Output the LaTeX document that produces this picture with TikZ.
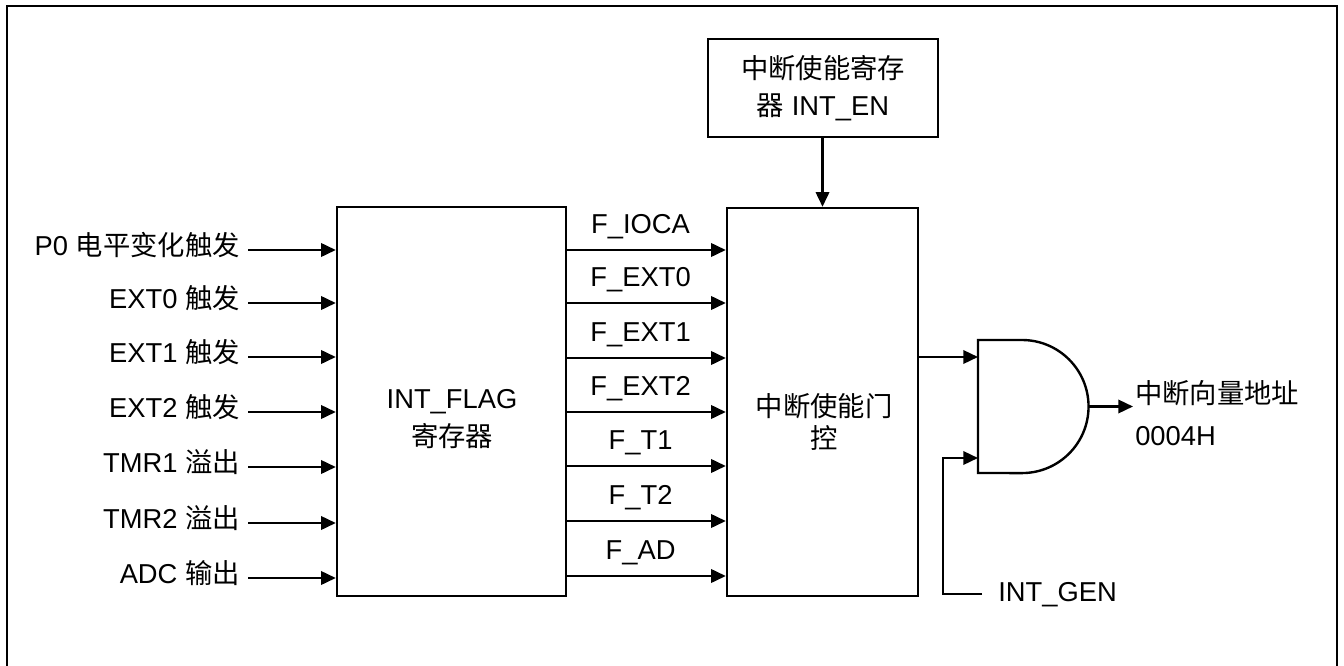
\documentclass[tikz,border=0pt]{standalone}
\usepackage{fontspec}
\setmainfont{Liberation Sans}
\newfontfamily\cjk{Noto Sans CJK SC}
\usetikzlibrary{arrows.meta,calc}
\begin{document}
\begin{tikzpicture}[x=0.75pt,y=-0.75pt,
  every node/.style={font=\fontsize{20.5pt}{28pt}\selectfont},
  t/.style={inner sep=0pt,text height=16pt,text depth=1.2pt},
  boxx/.style={draw,line width=1.8pt,inner sep=0pt},
  arr/.style={line width=1.8pt,-{Triangle[length=11pt,width=10pt]}},
  wire/.style={line width=1.8pt}]
\useasboundingbox (0,0) rectangle (1344,666);
% outer frame
\draw[line width=1.8pt] (7,670) -- (7,6) -- (1337,6) -- (1337,670);
% blocks
\node[boxx,minimum width=171.75pt,minimum height=291.75pt] (flag) at (451.5,401.5) {};
\node[align=center,inner sep=0pt] (flagtxt) at (452,419) {INT\_FLAG\\{\cjk 寄存器}};
\node[boxx,minimum width=143.25pt,minimum height=291pt] (gate) at (822.5,402) {};
\node[align=center,inner sep=0pt,font=\fontsize{20.5pt}{24pt}\selectfont] (gatetxt) at (824,422) {{\cjk 中断使能门}\\{\cjk 控}};
\node[boxx,minimum width=172.5pt,minimum height=73.5pt,align=center] (inten) at (823,88) {{\cjk 中断使能寄存}\\{\cjk 器} INT\_EN};
\draw[arr] (inten.south -| gate.north) -- (gate.north);
% inputs
\foreach \y/\txt [count=\i] in {250/{P0 {\cjk 电平变化触发}},303/{EXT0 {\cjk 触发}},357/{EXT1 {\cjk 触发}},412/{EXT2 {\cjk 触发}},467/{TMR1 {\cjk 溢出}},523/{TMR2 {\cjk 溢出}},578/{ADC {\cjk 输出}}}{
  \coordinate (a\i) at (248,\y);
  \node[t,anchor=east] (l\i) at ([shift={(-6pt,3pt)}]a\i) {\txt};
  \draw[arr] (a\i) -- (a\i -| flag.west);
}
% flag outputs
\foreach \y/\txt [count=\i] in {250/F\_IOCA,303/F\_EXT0,358/F\_EXT1,412/F\_EXT2,466/F\_T1,521/F\_T2,576/F\_AD}{
  \coordinate (b\i) at (566,\y);
  \draw[arr] (b\i) -- (b\i -| gate.west) node[t,midway,xshift=-4pt,yshift=19.5pt] (fl\i) {\txt};
}
% AND gate
\coordinate (g1) at (978,357);
\coordinate (g2) at (978,458);
\coordinate (gout) at (1089,406.5);
\draw[wire] (978,340) -- (1022,340) arc[start angle=90,end angle=-90,radius=49.9pt] -- (978,473) -- cycle;
\draw[arr] (gate.east |- g1) -- (g1);
\node[t,anchor=west] (igen) at (998,592) {INT\_GEN};
\coordinate (genx) at (943,594);
\draw[arr] ([xshift=-12pt,yshift=-1.5pt]igen.west) -- (genx) |- (g2);
\coordinate (oend) at (1133,406.5);
\draw[arr] (gout) -- (oend);
\node[inner sep=0pt,anchor=west,align=left,font=\fontsize{20.5pt}{31pt}\selectfont] (vec) at (1135,413) {{\cjk 中断向量地址}\\0004H};
\end{tikzpicture}
\end{document}
